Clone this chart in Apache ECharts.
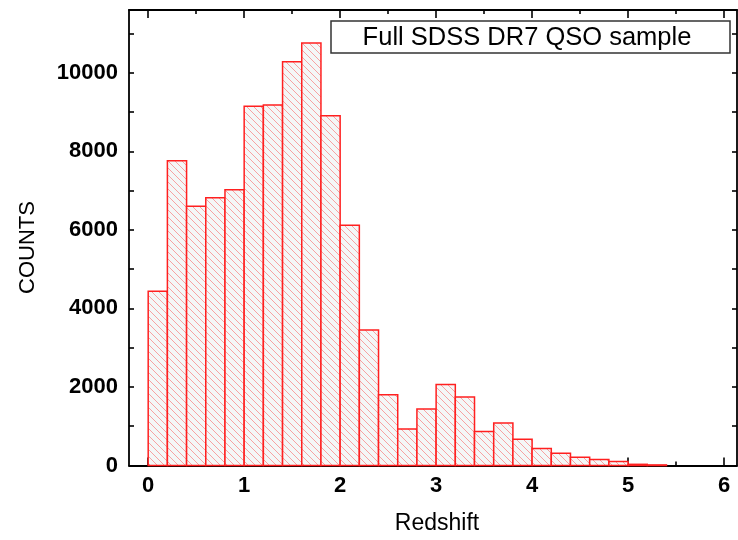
<!DOCTYPE html>
<html>
<head>
<meta charset="utf-8">
<script src="https://cdn.jsdelivr.net/npm/echarts@6/dist/echarts.min.js"></script>
<style>html,body{margin:0;padding:0;background:#fff;}#c{width:738px;height:540px;}</style>
</head>
<body>
<div id="c"></div>
<script>
// Histogram data: bin start (redshift) and counts, bin width 0.2
const binStarts = [0.0,0.2,0.4,0.6,0.8,1.0,1.2,1.4,1.6,1.8,2.0,2.2,2.4,2.6,2.8,3.0,3.2,3.4,3.6,3.8,4.0,4.2,4.4,4.6,4.8,5.0,5.2];
const counts    = [4435,7760,6605,6820,7020,9150,9180,10280,10760,8905,6120,3450,1800,930,1440,2065,1745,865,1080,670,430,310,210,150,105,30,15];
const binWidth = 0.2;
const xMajorTicks = [0,1,2,3,4,5,6];
const xMinorTicks = [0.5,1.5,2.5,3.5,4.5,5.5];
const yLabelTicks = [0,2000,4000,6000,8000,10000];
const yAllTicks = [0,1000,2000,3000,4000,5000,6000,7000,8000,9000,10000,11000];
const legendText = 'Full SDSS DR7 QSO sample';
const xTitle = 'Redshift';
const yTitle = 'COUNTS';

// hatch pattern
const T = 7;
const tile = document.createElement('canvas');
tile.width = T; tile.height = T;
const g = tile.getContext('2d');
g.fillStyle = '#f4f7f7';
g.fillRect(0,0,T,T);
g.strokeStyle = 'rgba(250,90,90,0.6)';
g.lineWidth = 0.9;
g.beginPath();
g.moveTo(-1,-1); g.lineTo(T+1,T+1);
g.moveTo(T-1,-1); g.lineTo(T+1,1);
g.moveTo(-1,T-1); g.lineTo(1,T+1);
g.stroke();
const hatch = {image: tile, repeat: 'repeat'};

const data = binStarts.map((s,i) => [s, s + binWidth, counts[i]]);
const FONT = "'Liberation Sans', Arial, sans-serif";
const XMIN = -0.2, XMAX = 6.135, YMIN = 0, YMAX = 11600;

function xAx(pos, ticks, len, labels, line) {
  return {
    type: 'value', position: pos, min: XMIN, max: XMAX, gridIndex: 0,
    axisLine: {show: line, onZero: false, lineStyle: {color: '#000', width: 1.8}},
    axisTick: {show: true, inside: true, length: len, customValues: ticks, lineStyle: {color: '#000', width: 1.6}},
    axisLabel: labels ? {show: true, customValues: ticks, margin: 9, color: '#000', fontFamily: FONT, fontWeight: 'bold', fontSize: 22, formatter: v => String(v)} : {show: false},
    splitLine: {show: false}
  };
}
function yAx(pos, labels, line) {
  return {
    type: 'value', position: pos, min: YMIN, max: YMAX, gridIndex: 0,
    axisLine: {show: line, onZero: false, lineStyle: {color: '#000', width: 1.8}},
    axisTick: {show: true, inside: true, length: 5, customValues: yAllTicks, lineStyle: {color: '#000', width: 1.6}},
    axisLabel: labels ? {show: true, customValues: yLabelTicks, margin: 11, color: '#000', fontFamily: FONT, fontWeight: 'bold', fontSize: 22, formatter: v => String(v)} : {show: false},
    splitLine: {show: false}
  };
}

const chart = echarts.init(document.getElementById('c'), null, {renderer: 'canvas'});
chart.setOption({
  animation: false,
  backgroundColor: '#fff',
  grid: {left: 129, right: 1, top: 10, bottom: 74.5, containLabel: false},
  xAxis: [
    xAx('bottom', xMajorTicks, 8, true, true),
    xAx('bottom', xMinorTicks, 4, false, false),
    xAx('top', xMajorTicks, 8, false, true),
    xAx('top', xMinorTicks, 4, false, false)
  ],
  yAxis: [
    yAx('left', true, true),
    yAx('right', false, true)
  ],
  series: [{
    type: 'custom',
    xAxisIndex: 0, yAxisIndex: 0,
    data: data,
    encode: {x: [0,1], y: 2},
    renderItem: function (params, api) {
      const p0 = api.coord([api.value(0), api.value(2)]);
      const p1 = api.coord([api.value(1), 0]);
      return {
        type: 'rect',
        shape: {x: p0[0], y: p0[1], width: p1[0] - p0[0], height: p1[1] - p0[1]},
        style: {fill: hatch, stroke: '#ff2020', lineWidth: 1.5}
      };
    },
    z: 1
  }],
  graphic: [
    {type: 'rect', shape: {x: 331, y: 21, width: 399, height: 32}, style: {fill: '#fff', stroke: '#333', lineWidth: 1.5}, z: 10},
    {type: 'text', x: 527, y: 37.5, style: {text: legendText, fill: '#000', font: "25.5px " + FONT, align: 'center', verticalAlign: 'middle'}, z: 11},
    {type: 'text', x: 437, y: 524, style: {text: xTitle, fill: '#000', font: "23px " + FONT, align: 'center', verticalAlign: 'middle'}, z: 11},
    {type: 'text', x: 28, y: 247.5, rotation: Math.PI/2, style: {text: yTitle, fill: '#000', font: "22px " + FONT, align: 'center', verticalAlign: 'middle'}, z: 11}
  ]
});
</script>
</body>
</html>
